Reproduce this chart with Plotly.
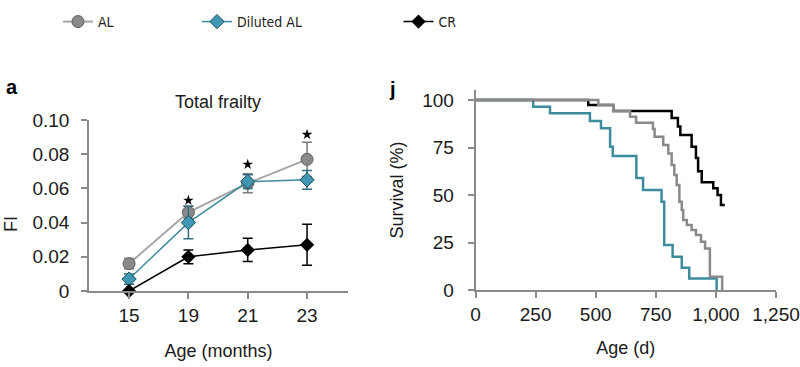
import plotly.graph_objects as go

# ---------------- Panel a: Total frailty ----------------
ages_months = ["15", "19", "21", "23"]

fi_al = [0.016, 0.046, 0.063, 0.077]
fi_al_err = [0.003, 0.0035, 0.0055, 0.010]

fi_dil = [0.007, 0.040, 0.064, 0.065]
fi_dil_err = [0.003, 0.0095, 0.004, 0.0055]

fi_cr = [0.0, 0.020, 0.024, 0.027]
fi_cr_err = [0.0, 0.004, 0.0068, 0.012]

star_x = ["19", "21", "23"]
star_y = [0.053, 0.074, 0.0915]

fi_ticks = [0, 0.02, 0.04, 0.06, 0.08, 0.10]
fi_ticktext = ["0", "0.02", "0.04", "0.06", "0.08", "0.10"]

# ---------------- Panel j: Survival ----------------
surv_al_days = [0, 511, 573, 643, 668, 738, 745, 781, 802, 816, 827, 837, 848, 858, 864,
                879, 899, 917, 938, 955, 975, 1026]
surv_al_pct = [100, 97.4, 94.2, 91.2, 88.0, 84.8, 80.7, 76.3, 71.9, 65.8, 60.5, 55.3, 46.5,
               42.1, 36.8, 34.2, 31.6, 28.9, 25.4, 21.9, 7.0, 0]

surv_dil_days = [0, 240, 310, 476, 522, 560, 571, 669, 697, 774, 785, 820, 858, 889, 1003]
surv_dil_pct = [100, 96.5, 93.0, 89.0, 85.1, 75.4, 70.5, 59.0, 52.6, 46.5, 23.7, 17.5, 11.7,
                6.1, 0]

surv_cr_days = [0, 469, 573, 816, 842, 852, 899, 917, 926, 941, 989, 1007, 1021, 1037]
surv_cr_pct = [100, 97.4, 94.2, 90.5, 86.0, 81.6, 75.4, 69.5, 62.5, 56.7, 53.5, 50.0, 44.7, 44.7]

surv_yticks = [0, 25, 50, 75, 100]
surv_xticks = [0, 250, 500, 750, 1000, 1250]

# ---------------- styles ----------------
GRAY_LINE = "#a6a6a6"
GRAY_MARK = "#8a8a8a"
TEAL_LINE = "#3d8c9e"
TEAL_MARK = "#3f97b3"
AXIS = "#8a8a8a"
FONT = "Liberation Sans, Arial, Helvetica, sans-serif"
NARROW = "Liberation Sans Narrow, Arial Narrow, DejaVu Sans Condensed, Liberation Sans, Arial, sans-serif"

W, H = 800, 367
def px_x(p):
    return p / W
def px_y(p):
    return 1 - p / H

fig = go.Figure()

# Panel a traces
fig.add_trace(go.Scatter(
    x=ages_months, y=fi_al, name="AL", mode="lines+markers",
    line=dict(color=GRAY_LINE, width=2),
    marker=dict(symbol="circle", size=12, color=GRAY_MARK, line=dict(color="#5e5e5e", width=1)),
    error_y=dict(type="data", array=fi_al_err, color="#7a7a7a", thickness=1.5, width=5),
    cliponaxis=False, xaxis="x", yaxis="y", legend="legend"))
fig.add_trace(go.Scatter(
    x=ages_months, y=fi_dil, name="Diluted AL", mode="lines+markers",
    line=dict(color=TEAL_LINE, width=1.5),
    marker=dict(symbol="diamond", size=11, color=TEAL_MARK, line=dict(color="#1f4e5c", width=1)),
    error_y=dict(type="data", array=fi_dil_err, color="#2f6f80", thickness=1.5, width=5),
    cliponaxis=False, xaxis="x", yaxis="y", legend="legend2"))
fig.add_trace(go.Scatter(
    x=ages_months, y=fi_cr, name="CR", mode="lines+markers",
    line=dict(color="black", width=1.5),
    marker=dict(symbol="diamond", size=11, color="black"),
    error_y=dict(type="data", array=fi_cr_err, color="black", thickness=1.5, width=5),
    cliponaxis=False, xaxis="x", yaxis="y", legend="legend3"))
fig.add_trace(go.Scatter(
    x=star_x, y=star_y, mode="markers", showlegend=False,
    marker=dict(symbol="star", size=8, color="black"),
    cliponaxis=False, xaxis="x", yaxis="y"))

# Panel j traces (gray drawn last, on top, as in the reference)
fig.add_trace(go.Scatter(
    x=surv_dil_days, y=surv_dil_pct, mode="lines", line=dict(color=TEAL_LINE, width=2.5, shape="hv"),
    showlegend=False, cliponaxis=False, xaxis="x2", yaxis="y2"))
fig.add_trace(go.Scatter(
    x=surv_cr_days, y=surv_cr_pct, mode="lines", line=dict(color="black", width=2.5, shape="hv"),
    showlegend=False, cliponaxis=False, xaxis="x2", yaxis="y2"))
fig.add_trace(go.Scatter(
    x=surv_al_days, y=surv_al_pct, mode="lines", line=dict(color=GRAY_MARK, width=2.5, shape="hv"),
    showlegend=False, cliponaxis=False, xaxis="x2", yaxis="y2"))

axis_common = dict(showline=True, linecolor=AXIS, linewidth=1.5, ticks="outside", ticklen=6,
                   tickwidth=1.5, tickcolor=AXIS, showgrid=False, zeroline=False,
                   automargin=False,
                   tickfont=dict(family=FONT, size=19, color="#1a1a1a"))

legend_common = dict(orientation="h", yanchor="middle", xanchor="left", y=px_y(22),
                     bgcolor="rgba(0,0,0,0)", font=dict(family=NARROW, size=14, color="#222"))

fig.update_layout(
    template="none",
    width=W, height=H, autosize=False,
    margin=dict(l=0, r=0, t=0, b=0, pad=0),
    paper_bgcolor="white", plot_bgcolor="white",
    font=dict(family=FONT, color="#1a1a1a"),
    xaxis=dict(domain=[px_x(89), px_x(348)], type="category", range=[-0.675, 3.69],
               anchor="y", title=dict(text="Age (months)", font=dict(size=18), standoff=20),
               **axis_common),
    yaxis=dict(domain=[px_y(291), px_y(120)], range=[0, 0.10], anchor="x",
               tickvals=fi_ticks, ticktext=fi_ticktext, ticklabelstandoff=8, **axis_common),
    xaxis2=dict(domain=[px_x(475.5), px_x(776)], range=[0, 1250], anchor="y2",
                tickvals=surv_xticks, tickformat=",",
                title=dict(text="Age (d)", font=dict(size=18), standoff=18), **axis_common),
    yaxis2=dict(domain=[px_y(290), px_y(90)], range=[0, 105.26], anchor="x2",
                tickvals=surv_yticks, ticklabelstandoff=10,
                title=dict(text="Survival (%)", font=dict(size=18), standoff=14), **axis_common),
    legend=dict(x=px_x(58), **legend_common),
    legend2=dict(x=px_x(197), **legend_common),
    legend3=dict(x=px_x(398.5), **legend_common),
    annotations=[
        dict(text="<b>a</b>", x=px_x(4), y=px_y(87), xref="paper", yref="paper",
             xanchor="left", yanchor="middle", showarrow=False,
             font=dict(family=FONT, size=20, color="black")),
        dict(text="<b>j</b>", x=px_x(387), y=px_y(89), xref="paper", yref="paper",
             xanchor="left", yanchor="middle", showarrow=False,
             font=dict(family=FONT, size=20, color="black")),
        dict(text="Total frailty", x=px_x(218), y=px_y(102), xref="paper", yref="paper",
             xanchor="center", yanchor="middle", showarrow=False,
             font=dict(family=FONT, size=18, color="#1a1a1a")),
        dict(text="FI", x=px_x(11), y=px_y(224), xref="paper", yref="paper",
             xanchor="center", yanchor="middle", showarrow=False, textangle=-90,
             font=dict(family=FONT, size=18, color="#1a1a1a")),
    ],
)

# remove the browser's default 8px body margin so the figure fills the window exactly
fig.write_html("out.html", config={"displayModeBar": False},
               post_script="document.body.style.margin='0';")
